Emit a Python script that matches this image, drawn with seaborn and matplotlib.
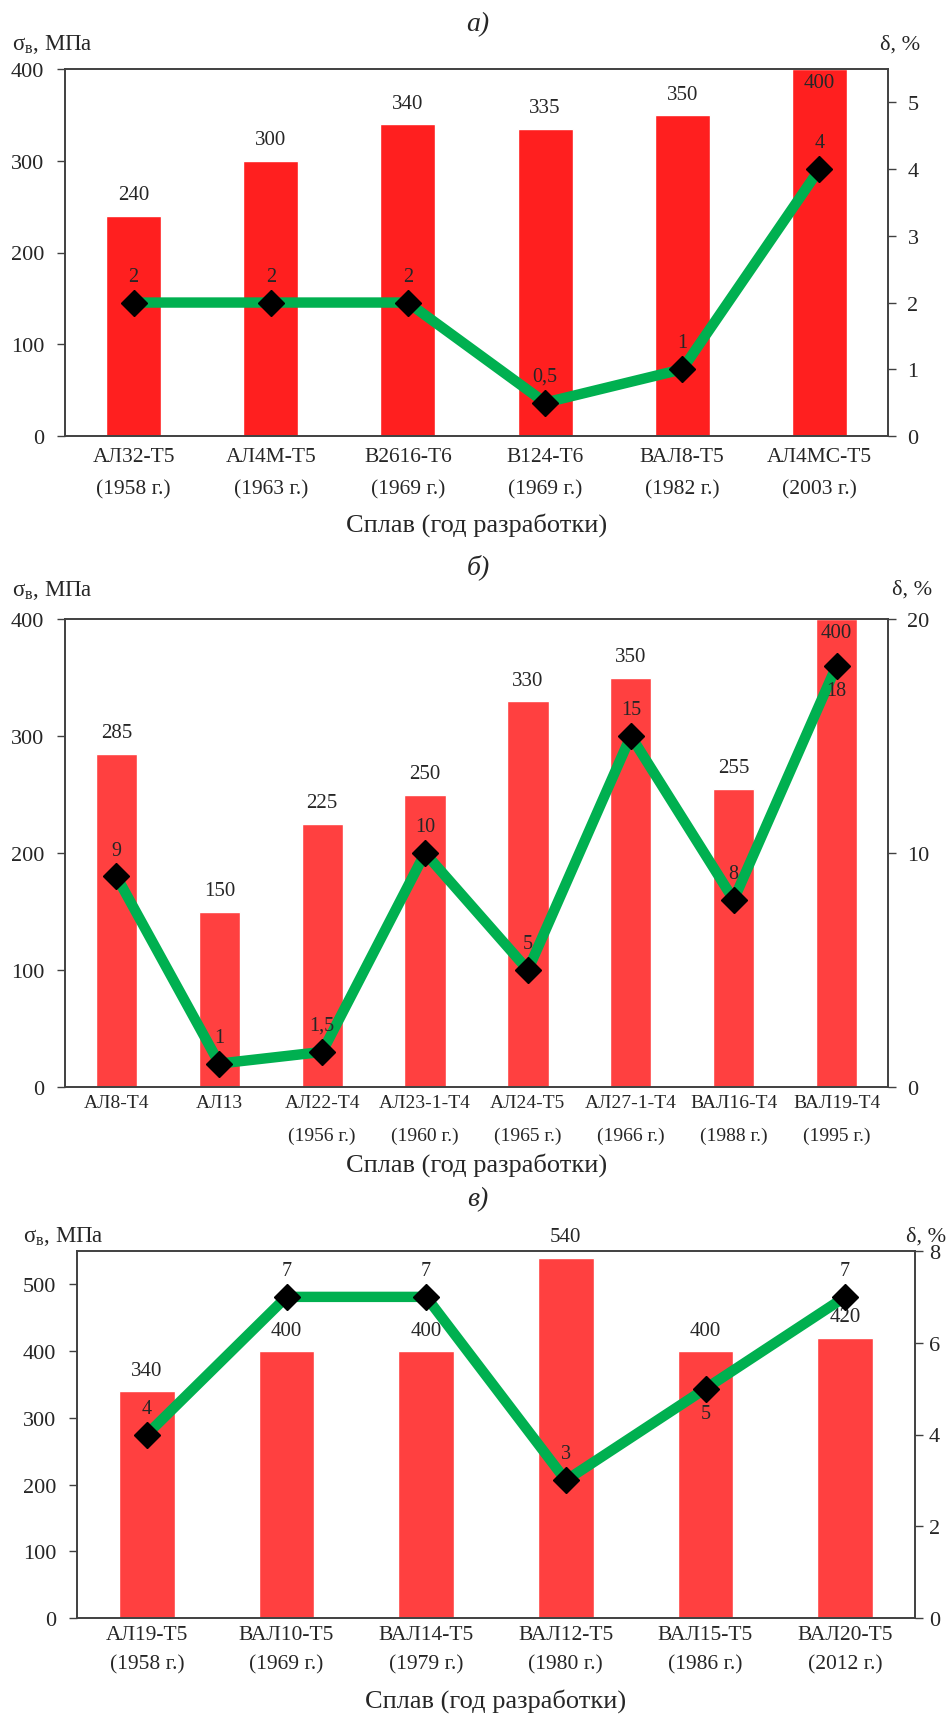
"""
Three-panel chart: tensile strength (bars) and elongation (line) of cast Al alloys.
"""
import numpy as np
import matplotlib
matplotlib.use('Agg')
import matplotlib.pyplot as plt
import seaborn as sns

# --- data ---
alloys_a = ['АЛ32-Т5\n(1958 г.)', 'АЛ4М-Т5\n(1963 г.)', 'В2616-Т6\n(1969 г.)',
            'В124-Т6\n(1969 г.)', 'ВАЛ8-Т5\n(1982 г.)', 'АЛ4МС-Т5\n(2003 г.)']
strength_a = [240, 300, 340, 335, 350, 400]
elong_a = [2, 2, 2, 0.5, 1, 4]

alloys_b = ['АЛ8-Т4', 'АЛ13', 'АЛ22-Т4\n(1956 г.)', 'АЛ23-1-Т4\n(1960 г.)',
            'АЛ24-Т5\n(1965 г.)', 'АЛ27-1-Т4\n(1966 г.)', 'ВАЛ16-Т4\n(1988 г.)',
            'ВАЛ19-Т4\n(1995 г.)']
strength_b = [285, 150, 225, 250, 330, 350, 255, 400]
elong_b = [9, 1, 1.5, 10, 5, 15, 8, 18]

alloys_c = ['АЛ19-Т5\n(1958 г.)', 'ВАЛ10-Т5\n(1969 г.)', 'ВАЛ14-Т5\n(1979 г.)',
            'ВАЛ12-Т5\n(1980 г.)', 'ВАЛ15-Т5\n(1986 г.)', 'ВАЛ20-Т5\n(2012 г.)']
strength_c = [340, 400, 400, 540, 400, 420]
elong_c = [4, 7, 7, 3, 5, 7]

sns.set_style('white')
plt.rcParams['font.family'] = ['Liberation Serif', 'DejaVu Serif']
plt.rcParams['mathtext.default'] = 'regular'

W, H = 951, 1715
fig = plt.figure(figsize=(W / 100, H / 100), dpi=100)

GREEN = '#00B050'
SPINE = '#404040'


def fx(x):
    return x / W


def fy(y):
    return 1 - y / H


def fmt(v):
    return f'{v:g}'.replace('.', ',')


def draw_panel(box, names, strength, elong, s_lim, s_step, d_lim, d_step,
               bar_color, title, title_y, lab_y, lab_x_left, lab_x_right,
               xlab_y, below=(), name_size=15.5, spacing=1.9, name_pad=8,
               right_pad=8):
    left, top, right, bottom = box
    ax = fig.add_axes([fx(left), fy(bottom), (right - left) / W, (bottom - top) / H])
    n = len(names)
    sns.barplot(x=names, y=strength, color=bar_color, saturation=1, width=0.4, ax=ax)
    ax.set_xlim(-0.5, n - 0.5)
    ax.set_ylim(0, s_lim)
    ax.set_yticks(np.arange(0, s_lim + 1, s_step))
    ax.set_xlabel('')
    ax.set_ylabel('')
    ax.tick_params(axis='x', length=0, pad=name_pad, labelsize=name_size)
    ax.tick_params(axis='y', direction='out', length=6, width=1, color=SPINE,
                   labelsize=16, pad=9, left=True)
    for lbl in ax.get_xticklabels():
        lbl.set_linespacing(spacing)
    for sp in ax.spines.values():
        sp.set_visible(True)
        sp.set_color(SPINE)
        sp.set_linewidth(1.2)

    # bar value labels (inside the bar when it reaches the top of the axis)
    for i, v in enumerate(strength):
        if v >= s_lim:
            ax.annotate(f'{v}', (i, s_lim), xytext=(0, -10), textcoords='offset points',
                        ha='center', va='center', fontsize=15)
        else:
            ax.annotate(f'{v}', (i, v), xytext=(0, 15), textcoords='offset points',
                        ha='center', va='center', fontsize=15)

    ax2 = ax.twinx()
    ax2.plot(np.arange(n), elong, color=GREEN, lw=7.5, marker='D', ms=13,
             mfc='black', mec='black', zorder=3, solid_joinstyle='miter')
    ax2.set_ylim(0, d_lim)
    dticks = np.arange(0, d_lim + 1e-9, d_step)
    ax2.set_yticks(dticks)
    ax2.set_yticklabels([fmt(t) for t in dticks])
    ax2.tick_params(axis='y', direction='out', length=6, width=1, color=SPINE,
                    labelsize=16, pad=right_pad, right=True)
    for sp in ax2.spines.values():
        sp.set_color(SPINE)
        sp.set_linewidth(1.2)
    for i, v in enumerate(elong):
        dy = -18 if i in below else 19
        ax2.annotate(fmt(v), (i, v), xytext=(0, dy), textcoords='offset points',
                     ha='center', va='center', fontsize=14.5)

    fig.text(fx(478), fy(title_y), title, ha='center', va='center',
             fontsize=20, style='italic')
    fig.text(fx(lab_x_left), fy(lab_y), 'σ$_{в}$, МПа', ha='left', va='center', fontsize=16.5)
    fig.text(fx(lab_x_right), fy(lab_y), 'δ, %', ha='left', va='center', fontsize=16)
    fig.text(fx((left + right) / 2), fy(xlab_y), 'Сплав (год разработки)',
             ha='center', va='center', fontsize=19)
    return ax, ax2


draw_panel((65, 70, 888, 437), alloys_a, strength_a, elong_a, 400, 100, 5.5, 1,
           '#FF1F1F', 'а)', 25, 45, 12, 880, 525)
draw_panel((65, 620, 888, 1088), alloys_b, strength_b, elong_b, 400, 100, 20, 10,
           '#FF4040', 'б)', 567, 590, 12, 892, 1165, below=(7,), name_size=14,
           spacing=2.2, name_pad=5)
draw_panel((77, 1252, 915, 1619), alloys_c, strength_c, elong_c, 550, 100, 8, 2,
           '#FF4040', 'в)', 1200, 1237, 23, 906, 1701, below=(4,), spacing=1.75,
           name_pad=5, right_pad=4)

fig.savefig('out.png', dpi=100)
